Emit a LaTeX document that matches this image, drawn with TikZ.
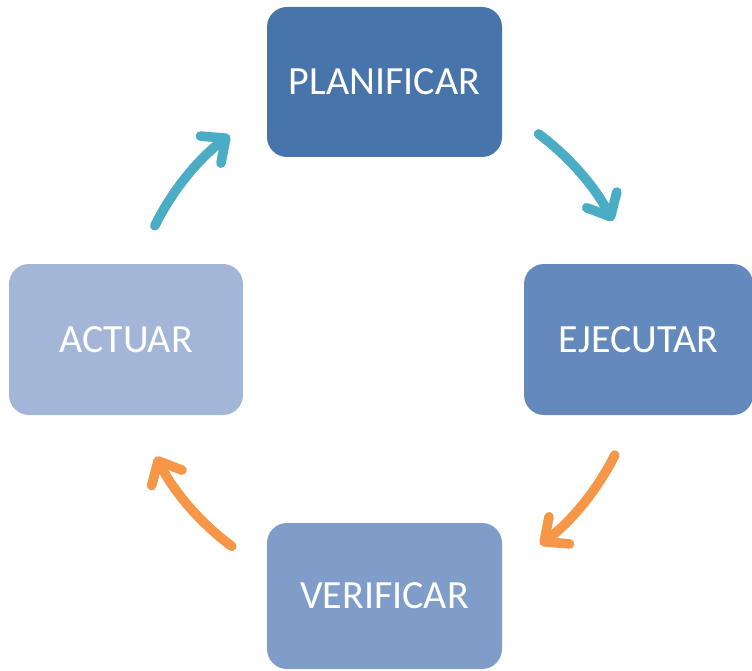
\documentclass[tikz,border=0pt]{standalone}
\usepackage{fontspec}
\setmainfont{Carlito}
\usetikzlibrary{arrows.meta,calc}

\definecolor{planC}{HTML}{4774AA}
\definecolor{ejecC}{HTML}{6389BD}
\definecolor{veriC}{HTML}{809DC9}
\definecolor{actuC}{HTML}{A3B6D7}
\definecolor{tealC}{HTML}{4BACC6}
\definecolor{orngC}{HTML}{F79646}

\tikzset{
  stage/.style={rounded corners=20pt, inner sep=0pt, text=white,
    font=\fontsize{40}{48}\selectfont},
  cyclearrow/.style={line width=9.5pt, line cap=round,
    -{Straight Barb[length=19pt, width=34pt, line cap=round, line join=round]}},
  arrowshade/.style={cyclearrow, draw=black, opacity=0.12},
}

\begin{document}
\begin{tikzpicture}[x=1pt, y=1pt]
  \useasboundingbox (0,0) rectangle (752,-671);
  \clip (0,0) rectangle (752,-671);

  % the four stages of the cycle
  \node[stage, fill=planC, minimum width=235pt, minimum height=150pt]
    (plan) at (384.5,-82) {PLANIFICAR};
  \node[stage, fill=ejecC, minimum width=229pt, minimum height=151pt]
    (ejec) at (638.5,-339.5) {EJECUTAR};
  \node[stage, fill=veriC, minimum width=235pt, minimum height=146pt]
    (veri) at (384.5,-596) {VERIFICAR};
  \node[stage, fill=actuC, minimum width=234pt, minimum height=151pt]
    (actu) at (126,-339.5) {ACTUAR};

  % centre of the cycle and the start of each arrow on its circle
  \coordinate (ctr) at (385,-340);
  \coordinate (a1s) at ($(ctr)+(53.3:257)$);
  \coordinate (a2s) at ($(ctr)+(-26.6:257)$);
  \coordinate (a3s) at ($(ctr)+(-126.6:257)$);
  \coordinate (a4s) at ($(ctr)+(153.6:257)$);

  % soft shadows under the arrows
  \begin{scope}[shift={(2.5,-3)}]
    \draw[arrowshade] (a1s) arc[start angle=53.3, end angle=27.6, radius=257];
    \draw[arrowshade] (a2s) arc[start angle=-26.6, end angle=-52.8, radius=257];
    \draw[arrowshade] (a3s) arc[start angle=-126.6, end angle=-153.0, radius=257];
    \draw[arrowshade] (a4s) arc[start angle=153.6, end angle=127.2, radius=257];
  \end{scope}

  % clockwise arrows between the stages
  \draw[cyclearrow, draw=tealC] (a1s) arc[start angle=53.3, end angle=27.6, radius=257];
  \draw[cyclearrow, draw=orngC] (a2s) arc[start angle=-26.6, end angle=-52.8, radius=257];
  \draw[cyclearrow, draw=orngC] (a3s) arc[start angle=-126.6, end angle=-153.0, radius=257];
  \draw[cyclearrow, draw=tealC] (a4s) arc[start angle=153.6, end angle=127.2, radius=257];
\end{tikzpicture}
\end{document}
